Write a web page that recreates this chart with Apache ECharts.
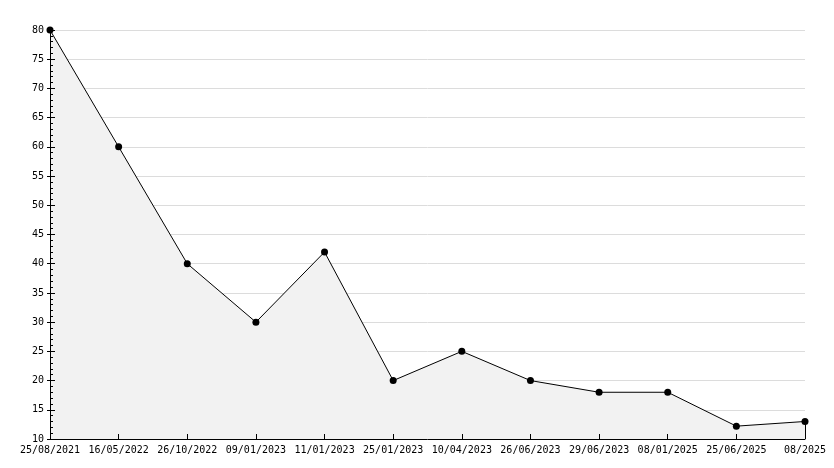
<!DOCTYPE html>
<html><head><meta charset="utf-8">
<script src="https://cdn.jsdelivr.net/npm/echarts@6/dist/echarts.min.js"></script>
<style>html,body{margin:0;padding:0;background:#fff}#c{width:834px;height:468px}</style>
</head><body><div id="c"></div>
<script>
const categories = ['25/08/2021','16/05/2022','26/10/2022','09/01/2023','11/01/2023','25/01/2023','10/04/2023','26/06/2023','29/06/2023','08/01/2025','25/06/2025','08/2025'];
const values = [80, 60, 40, 30, 42, 20, 25, 20, 18, 18, 12.2, 13];
const yMin = 10, yMax = 80, yStep = 5;

const chart = echarts.init(document.getElementById('c'), null, {renderer:'canvas'});
const font = {fontFamily:'DejaVu Sans Mono', fontSize:10, color:'#000'};
const lastIdx = values.length - 1;
chart.setOption({
  animation:false,
  grid:{left:50, right:29, top:30, bottom:29},
  xAxis:{type:'category', data:categories, boundaryGap:false, z:5,
    axisLine:{lineStyle:{color:'#000', width:1}},
    axisTick:{inside:true, length:5, lineStyle:{color:'#000'}},
    axisLabel:Object.assign({margin:6, interval:0}, font),
    splitLine:{show:false}},
  yAxis:[{type:'value', min:yMin, max:yMax, interval:yStep, z:5,
    axisLine:{show:true, lineStyle:{color:'#000', width:1}},
    axisTick:{show:true, inside:true, length:5, lineStyle:{color:'#000'}},
    minorTick:{show:true, splitNumber:5, length:3, lineStyle:{color:'#000'}},
    axisLabel:Object.assign({margin:6}, font),
    splitLine:{show:false}},
   {type:'value', min:yMin, max:yMax, interval:yStep, position:'left', z:5,
    axisLine:{show:false},
    axisTick:{show:true, inside:false, length:3, lineStyle:{color:'#000'}},
    axisLabel:{show:false}, splitLine:{show:false}},
   {type:'value', min:yMin, max:yMax, interval:yStep, position:'left', z:0,
    axisLine:{show:false}, axisTick:{show:false}, axisLabel:{show:false},
    splitLine:{show:true, lineStyle:{color:'#dcdcdc', width:1}}}],
  series:[{type:'line', data:values, symbol:'circle', symbolSize:7, z:2,
    itemStyle:{color:'#000'}, lineStyle:{color:'#000', width:1},
    areaStyle:{color:'#f2f2f2', opacity:1},
    markLine:{silent:true, symbol:'none', label:{show:false},
      lineStyle:{color:'#000', width:1, type:'solid'},
      data:[[{coord:[lastIdx, values[lastIdx]]},{coord:[lastIdx, yMin]}]]}}]
});
</script></body></html>
